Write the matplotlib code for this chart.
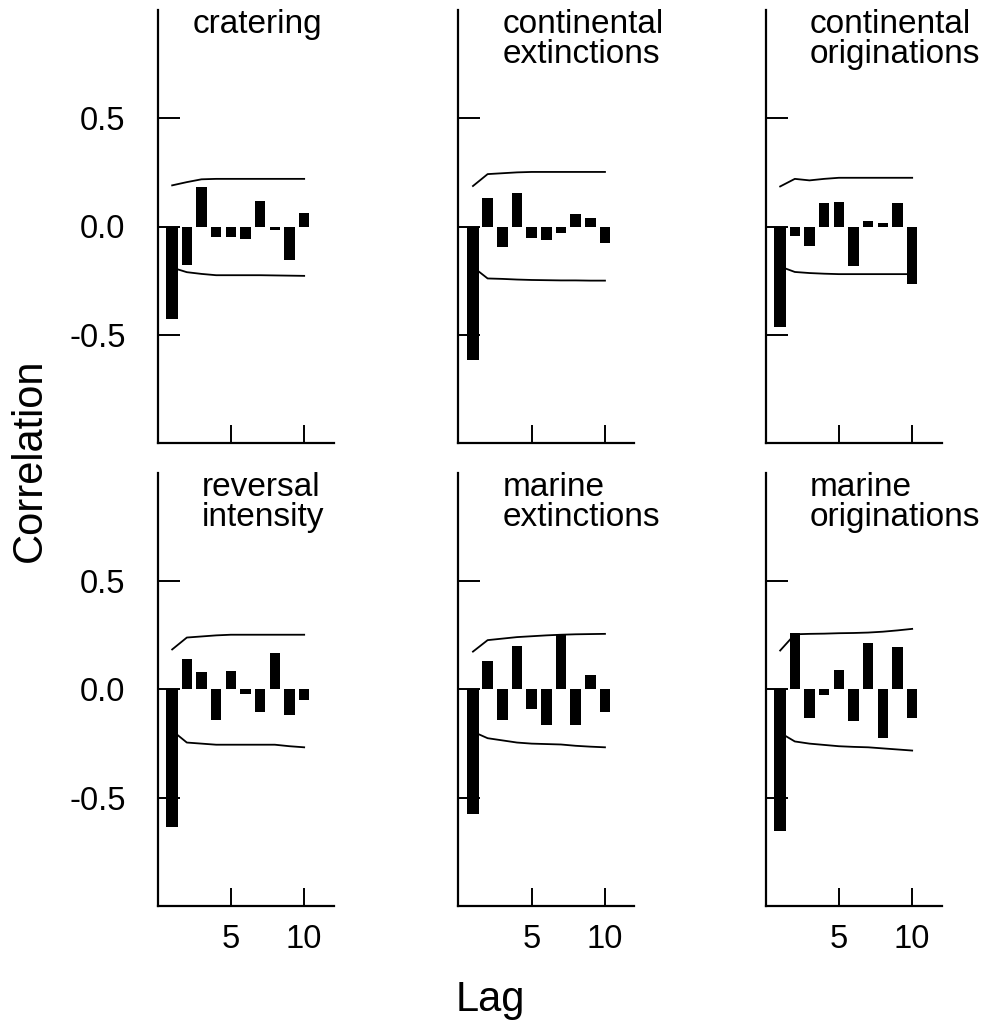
import numpy as np
import matplotlib
matplotlib.use("Agg")
import matplotlib.pyplot as plt

plt.rcParams['font.family'] = ['Liberation Sans', 'DejaVu Sans']

lags = np.arange(1, 11)
titles = ["cratering", "continental\nextinctions", "continental\noriginations",
          "reversal\nintensity", "marine\nextinctions", "marine\noriginations"]

# autocorrelation values
cratering = [-0.425, -0.176, 0.182, -0.047, -0.047, -0.056, 0.117, -0.016, -0.153, 0.062]
cont_ext = [-0.615, 0.133, -0.093, 0.153, -0.054, -0.062, -0.028, 0.059, 0.039, -0.078]
cont_orig = [-0.464, -0.045, -0.092, 0.107, 0.115, -0.184, 0.025, 0.017, 0.110, -0.266]
reversal = [-0.636, 0.140, 0.079, -0.140, 0.087, -0.019, -0.104, 0.170, -0.116, -0.047]
mar_ext = [-0.577, 0.132, -0.140, 0.200, -0.092, -0.166, 0.253, -0.166, 0.066, -0.104]
mar_orig = [-0.655, 0.263, -0.130, -0.027, 0.090, -0.146, 0.217, -0.223, 0.198, -0.130]

# confidence limits
cratering_hi = [0.190, 0.205, 0.218, 0.220, 0.220, 0.220, 0.220, 0.220, 0.220, 0.220]
cratering_lo = [-0.190, -0.211, -0.219, -0.225, -0.225, -0.225, -0.225, -0.226, -0.227, -0.228]
cont_ext_hi = [0.187, 0.242, 0.246, 0.250, 0.252, 0.252, 0.252, 0.252, 0.252, 0.252]
cont_ext_lo = [-0.187, -0.240, -0.242, -0.245, -0.247, -0.248, -0.249, -0.249, -0.250, -0.250]
cont_orig_hi = [0.185, 0.220, 0.213, 0.220, 0.225, 0.225, 0.225, 0.225, 0.225, 0.225]
cont_orig_lo = [-0.185, -0.210, -0.215, -0.218, -0.220, -0.220, -0.220, -0.220, -0.220, -0.220]
reversal_hi = [0.185, 0.240, 0.245, 0.250, 0.253, 0.253, 0.253, 0.253, 0.253, 0.253]
reversal_lo = [-0.190, -0.245, -0.250, -0.255, -0.255, -0.255, -0.255, -0.255, -0.262, -0.267]
mar_ext_hi = [0.175, 0.228, 0.235, 0.242, 0.246, 0.250, 0.253, 0.255, 0.256, 0.257]
mar_ext_lo = [-0.195, -0.225, -0.235, -0.245, -0.250, -0.252, -0.254, -0.260, -0.264, -0.267]
mar_orig_hi = [0.180, 0.255, 0.257, 0.258, 0.260, 0.261, 0.263, 0.267, 0.273, 0.280]
mar_orig_lo = [-0.200, -0.240, -0.250, -0.256, -0.262, -0.265, -0.267, -0.272, -0.277, -0.282]

series = [cratering, cont_ext, cont_orig, reversal, mar_ext, mar_orig]
highs = [cratering_hi, cont_ext_hi, cont_orig_hi, reversal_hi, mar_ext_hi, mar_orig_hi]
lows = [cratering_lo, cont_ext_lo, cont_orig_lo, reversal_lo, mar_ext_lo, mar_orig_lo]

W, H = 993, 1033
fig = plt.figure(figsize=(W / 100, H / 100), dpi=100)

col_left = [157.5, 458.3, 765.5]
row_top = [10, 473]
ax_w, ax_h = 176, 433
widths = [0.85] + [0.72] * 9

for i in range(6):
    r, c = divmod(i, 3)
    ax = fig.add_axes([col_left[c] / W, 1 - (row_top[r] + ax_h) / H, ax_w / W, ax_h / H])
    ax.bar(lags, series[i], width=widths, color='black', zorder=3)
    ax.plot(lags, highs[i], color='black', lw=1.3, zorder=2)
    ax.plot(lags, lows[i], color='black', lw=1.3, zorder=2)
    ax.set_xlim(0, 12)
    ax.set_ylim(-1, 1)
    for s in ['top', 'right']:
        ax.spines[s].set_visible(False)
    for s in ['left', 'bottom']:
        ax.spines[s].set_linewidth(1.6)
    ax.set_xticks([5, 10])
    ax.set_yticks([-0.5, 0.0, 0.5])
    ax.tick_params(axis='y', direction='in', length=16, width=1.4, pad=23, labelsize=23.5)
    ax.tick_params(axis='x', direction='in', length=13, width=1.4, pad=13, labelsize=23.5)
    if c == 0:
        ax.set_yticklabels(["-0.5", "0.0", "0.5"])
    else:
        ax.set_yticklabels([])
    if r == 0:
        ax.set_xticklabels([])
    ax.text(2.4 if i == 0 else 3.0, 1.005, titles[i], ha='left', va='top',
            fontsize=24, linespacing=0.95)

fig.text(30 / W, 1 - 460 / H, "Correlation", rotation=90, ha='center', va='center', fontsize=30)
fig.text(490 / W, 1 - 1000 / H, "Lag", ha='center', va='center', fontsize=30)

fig.savefig("out.png", dpi=100)
